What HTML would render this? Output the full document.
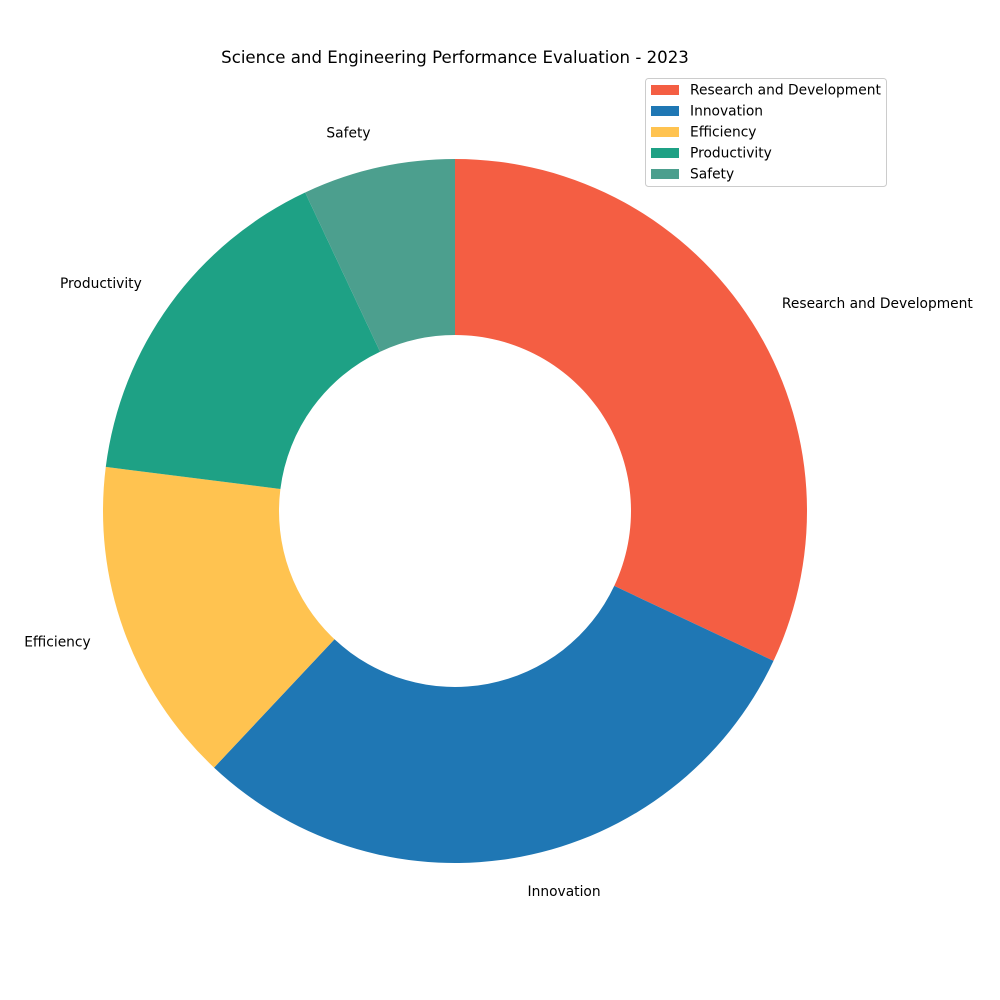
<!DOCTYPE html>
<html><head><meta charset="utf-8"><style>
html,body{margin:0;padding:0;background:#fff;}
svg{display:block;font-family:"DejaVu Sans","Liberation Sans",sans-serif;}
</style></head><body>
<svg id="chart" width="1000" height="1000" viewBox="0 0 1000 1000">
<text x="455" y="63" text-anchor="middle" font-size="16.6" fill="#000">Science and Engineering Performance Evaluation - 2023</text>
<g id="slices"></g>
<g id="labels"></g>
<g id="legend">
<rect x="645.5" y="78.5" width="241" height="108" rx="3" fill="#fff" stroke="#ccc" stroke-width="1"/>
</g>
</svg>
<script>
const categories = ["Research and Development","Innovation","Efficiency","Productivity","Safety"];
const values = [32, 30, 15, 16, 7];
const colors = ["#f45e43","#1f77b4","#ffc350","#1ea185","#4c9f8e"];
const NS="http://www.w3.org/2000/svg";
const cx=455, cy=511, R=352, r=176;
const total=values.reduce((a,b)=>a+b,0);
const slices=document.getElementById('slices');
const labels=document.getElementById('labels');
const legend=document.getElementById('legend');
function pt(rad,ang){return [cx+rad*Math.sin(ang), cy-rad*Math.cos(ang)];}
let acc=0;
values.forEach((v,i)=>{
  const a0=acc/total*2*Math.PI; acc+=v; const a1=acc/total*2*Math.PI;
  const large=(a1-a0)>Math.PI?1:0;
  const [x0,y0]=pt(R,a0),[x1,y1]=pt(R,a1),[x2,y2]=pt(r,a1),[x3,y3]=pt(r,a0);
  const p=document.createElementNS(NS,'path');
  p.setAttribute('d',`M${x0},${y0} A${R},${R} 0 ${large} 1 ${x1},${y1} L${x2},${y2} A${r},${r} 0 ${large} 0 ${x3},${y3} Z`);
  p.setAttribute('fill',colors[i]);
  
  
  slices.appendChild(p);
  const am=(a0+a1)/2; const [lx,ly]=pt(R*1.1,am);
  const t=document.createElementNS(NS,'text');
  t.setAttribute('x',lx); t.setAttribute('y',ly+4.5);
  t.setAttribute('font-size','13.8');
  t.setAttribute('text-anchor', lx>=cx?'start':'end');
  t.textContent=categories[i];
  
  
  labels.appendChild(t);
  const ly2=90+i*21;
  const sw=document.createElementNS(NS,'rect');
  sw.setAttribute('x',651); sw.setAttribute('y',ly2-5); sw.setAttribute('width',28); sw.setAttribute('height',10);
  sw.setAttribute('fill',colors[i]);
  
  
  legend.appendChild(sw);
  const lt=document.createElementNS(NS,'text');
  lt.setAttribute('x',690); lt.setAttribute('y',ly2+4.5); lt.setAttribute('font-size','13.8');
  lt.textContent=categories[i];
  
  
  legend.appendChild(lt);
});
</script>
</body></html>
